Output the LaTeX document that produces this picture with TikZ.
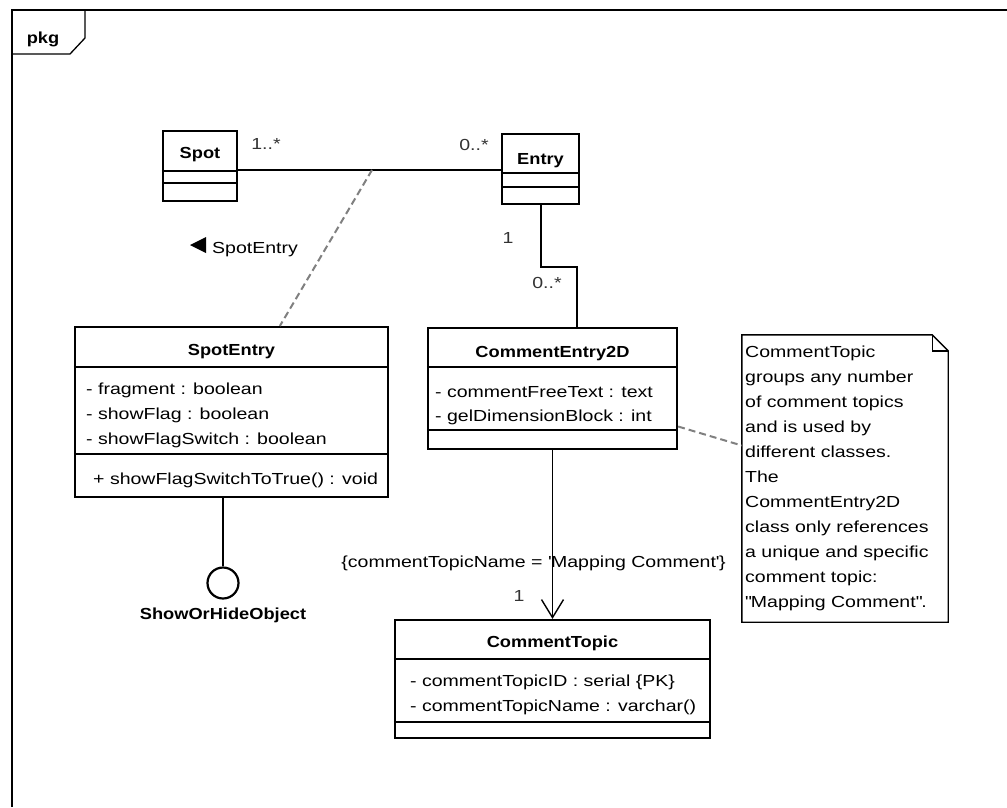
\documentclass[tikz,border=0pt]{standalone}
\usepackage{fontspec}
\setmainfont{Liberation Sans}[FakeStretch=1.22]
\newfontfamily\clsfont{Liberation Sans}[FakeStretch=1.14]
\usetikzlibrary{calc,arrows.meta}

\tikzset{
  box/.style={draw, line width=2.2pt, inner sep=0pt},
  sep/.style={line width=1.3pt},
  frameline/.style={line width=1.3pt},
  link/.style={line width=1.4pt},
  dashlink/.style={draw=black!50, line width=2pt, dash pattern=on 7pt off 4pt},
  nm/.style={font=\clsfont\bfseries\fontsize{16}{20}\selectfont, inner sep=0pt, anchor=base},
  attr/.style={font=\fontsize{16}{24}\selectfont, inner sep=0pt, anchor=base west},
  mult/.style={font=\fontsize{16}{24}\selectfont, inner sep=0pt, anchor=base, text=black!80},
  notetext/.style={font=\fontsize{16}{25}\selectfont, inner sep=0pt, anchor=north west, align=left},
}

\begin{document}
\begin{tikzpicture}[x=1pt,y=-1pt]
\useasboundingbox (0,0) rectangle (1007,807);
\fill[white] (0,0) rectangle (1007,807);

% package frame and its name tab
\draw[frameline] (12,807) -- (12,10) -- (1007,10);
\draw[frameline] (12,54) -- (70,54) -- (85,38) -- (85,10);
\node[nm] (pkgname) at (43,43) {pkg};

% class Spot
\node[box, minimum width=74pt, minimum height=70pt] (spot) at (200,166) {};
\draw[sep] (spot.west |- 0,171) -- (spot.east |- 0,171);
\draw[sep] (spot.west |- 0,183) -- (spot.east |- 0,183);
\node[nm] (spotname) at (200,158) {Spot};

% class Entry
\node[box, minimum width=77pt, minimum height=70pt] (entry) at (540.5,169) {};
\draw[sep] (entry.west |- 0,173) -- (entry.east |- 0,173);
\draw[sep] (entry.west |- 0,187) -- (entry.east |- 0,187);
\node[nm] (entryname) at (540.5,164) {Entry};

% association Spot -- Entry
\coordinate (assocL) at (spot.east |- 0,170);
\coordinate (assocR) at (entry.west |- 0,170);
\draw[link] (assocL) -- (assocR);
\node[mult] (m1) at (266,149) {1..*};
\node[mult] (m2) at (474,150) {0..*};
\coordinate (assocPt) at (372,170);

% association class SpotEntry
\node[box, minimum width=313pt, minimum height=170pt] (se) at (231.5,412) {};
\draw[sep] (se.west |- 0,367) -- (se.east |- 0,367);
\draw[sep] (se.west |- 0,454) -- (se.east |- 0,454);
\node[nm] (sename) at (231.5,355) {SpotEntry};
\node[attr] (se1) at (86,394) {- fragment : boolean};
\node[attr] (se2) at (86,419) {- showFlag : boolean};
\node[attr] (se3) at (86,444) {- showFlagSwitch : boolean};
\node[attr] (se4) at (93,484) {+ showFlagSwitchToTrue() : void};
\coordinate (seTop) at ($(se.north west)+(206,0)$);
\draw[dashlink] (assocPt) -- (seTop);

% association name with direction marker
\fill (190,245) -- (206,237) -- (206,253) -- cycle;
\node[attr] (assocname) at (212,253) {SpotEntry};

% provided interface
\node[draw, circle, line width=2.2pt, minimum size=31pt, inner sep=0pt] (iface) at (223,583) {};
\draw[link] (se.south -| iface.north) -- (iface.north);
\node[nm] (ifacename) at (223,619) {ShowOrHideObject};

% class CommentEntry2D
\node[box, minimum width=249pt, minimum height=121pt] (ce) at (552.5,388.5) {};
\draw[sep] (ce.west |- 0,367) -- (ce.east |- 0,367);
\draw[sep] (ce.west |- 0,430) -- (ce.east |- 0,430);
\node[nm] (cename) at (552.5,357) {CommentEntry2D};
\node[attr] (ce1) at (435,397) {- commentFreeText : text};
\node[attr] (ce2) at (435,421) {- gelDimensionBlock : int};

% Entry -- CommentEntry2D
\coordinate (bendA) at (541,267);
\coordinate (bendB) at (577,267);
\draw[link] (entry.south -| bendA) -- (bendA) -- (bendB) -- (ce.north -| bendB);
\node[mult] (m3) at (508,243) {1};
\node[mult] (m4) at (547,288) {0..*};

% class CommentTopic
\node[box, minimum width=315pt, minimum height=118pt] (ct) at (552.5,679) {};
\draw[sep] (ct.west |- 0,659) -- (ct.east |- 0,659);
\draw[sep] (ct.west |- 0,722) -- (ct.east |- 0,722);
\node[nm] (ctname) at (552.5,647) {CommentTopic};
\node[attr] (ct1) at (410,686) {- commentTopicID : serial \{PK\}};
\node[attr] (ct2) at (410,711) {- commentTopicName : varchar()};

% directed association CommentEntry2D -> CommentTopic
\draw[link, -{Straight Barb[length=18pt, width=22pt, line width=1.4pt]}] (ce.south) -- (ct.north);
\node[mult, text=black] (constraint) at (533.5,567) {\{commentTopicName = \textquotesingle Mapping Comment\textquotesingle\}};
\node[mult] (m5) at (519,601) {1};

% note with folded corner
\node[minimum width=206pt, minimum height=287pt, inner sep=0pt] (note) at (845,478.5) {};
\draw[link] ($(note.north east)+(-16,0)$) -- (note.north west) -- (note.south west)
  -- (note.south east) -- ($(note.north east)+(0,16)$) -- cycle;
\draw[link] ($(note.north east)+(-16,0)$) -- ($(note.north east)+(-16,16)$) -- ($(note.north east)+(0,16)$);
\node[notetext] (notetxt) at (745,346) {CommentTopic\\groups any number\\of comment topics\\and is used by\\different classes.\\The\\CommentEntry2D\\class only references\\a unique and specific\\comment topic:\\\textquotedbl Mapping Comment\textquotedbl.};
\draw[dashlink] ($(ce.east)+(0,38)$) -- ($(note.west)+(0,-33)$);
\end{tikzpicture}
\end{document}
